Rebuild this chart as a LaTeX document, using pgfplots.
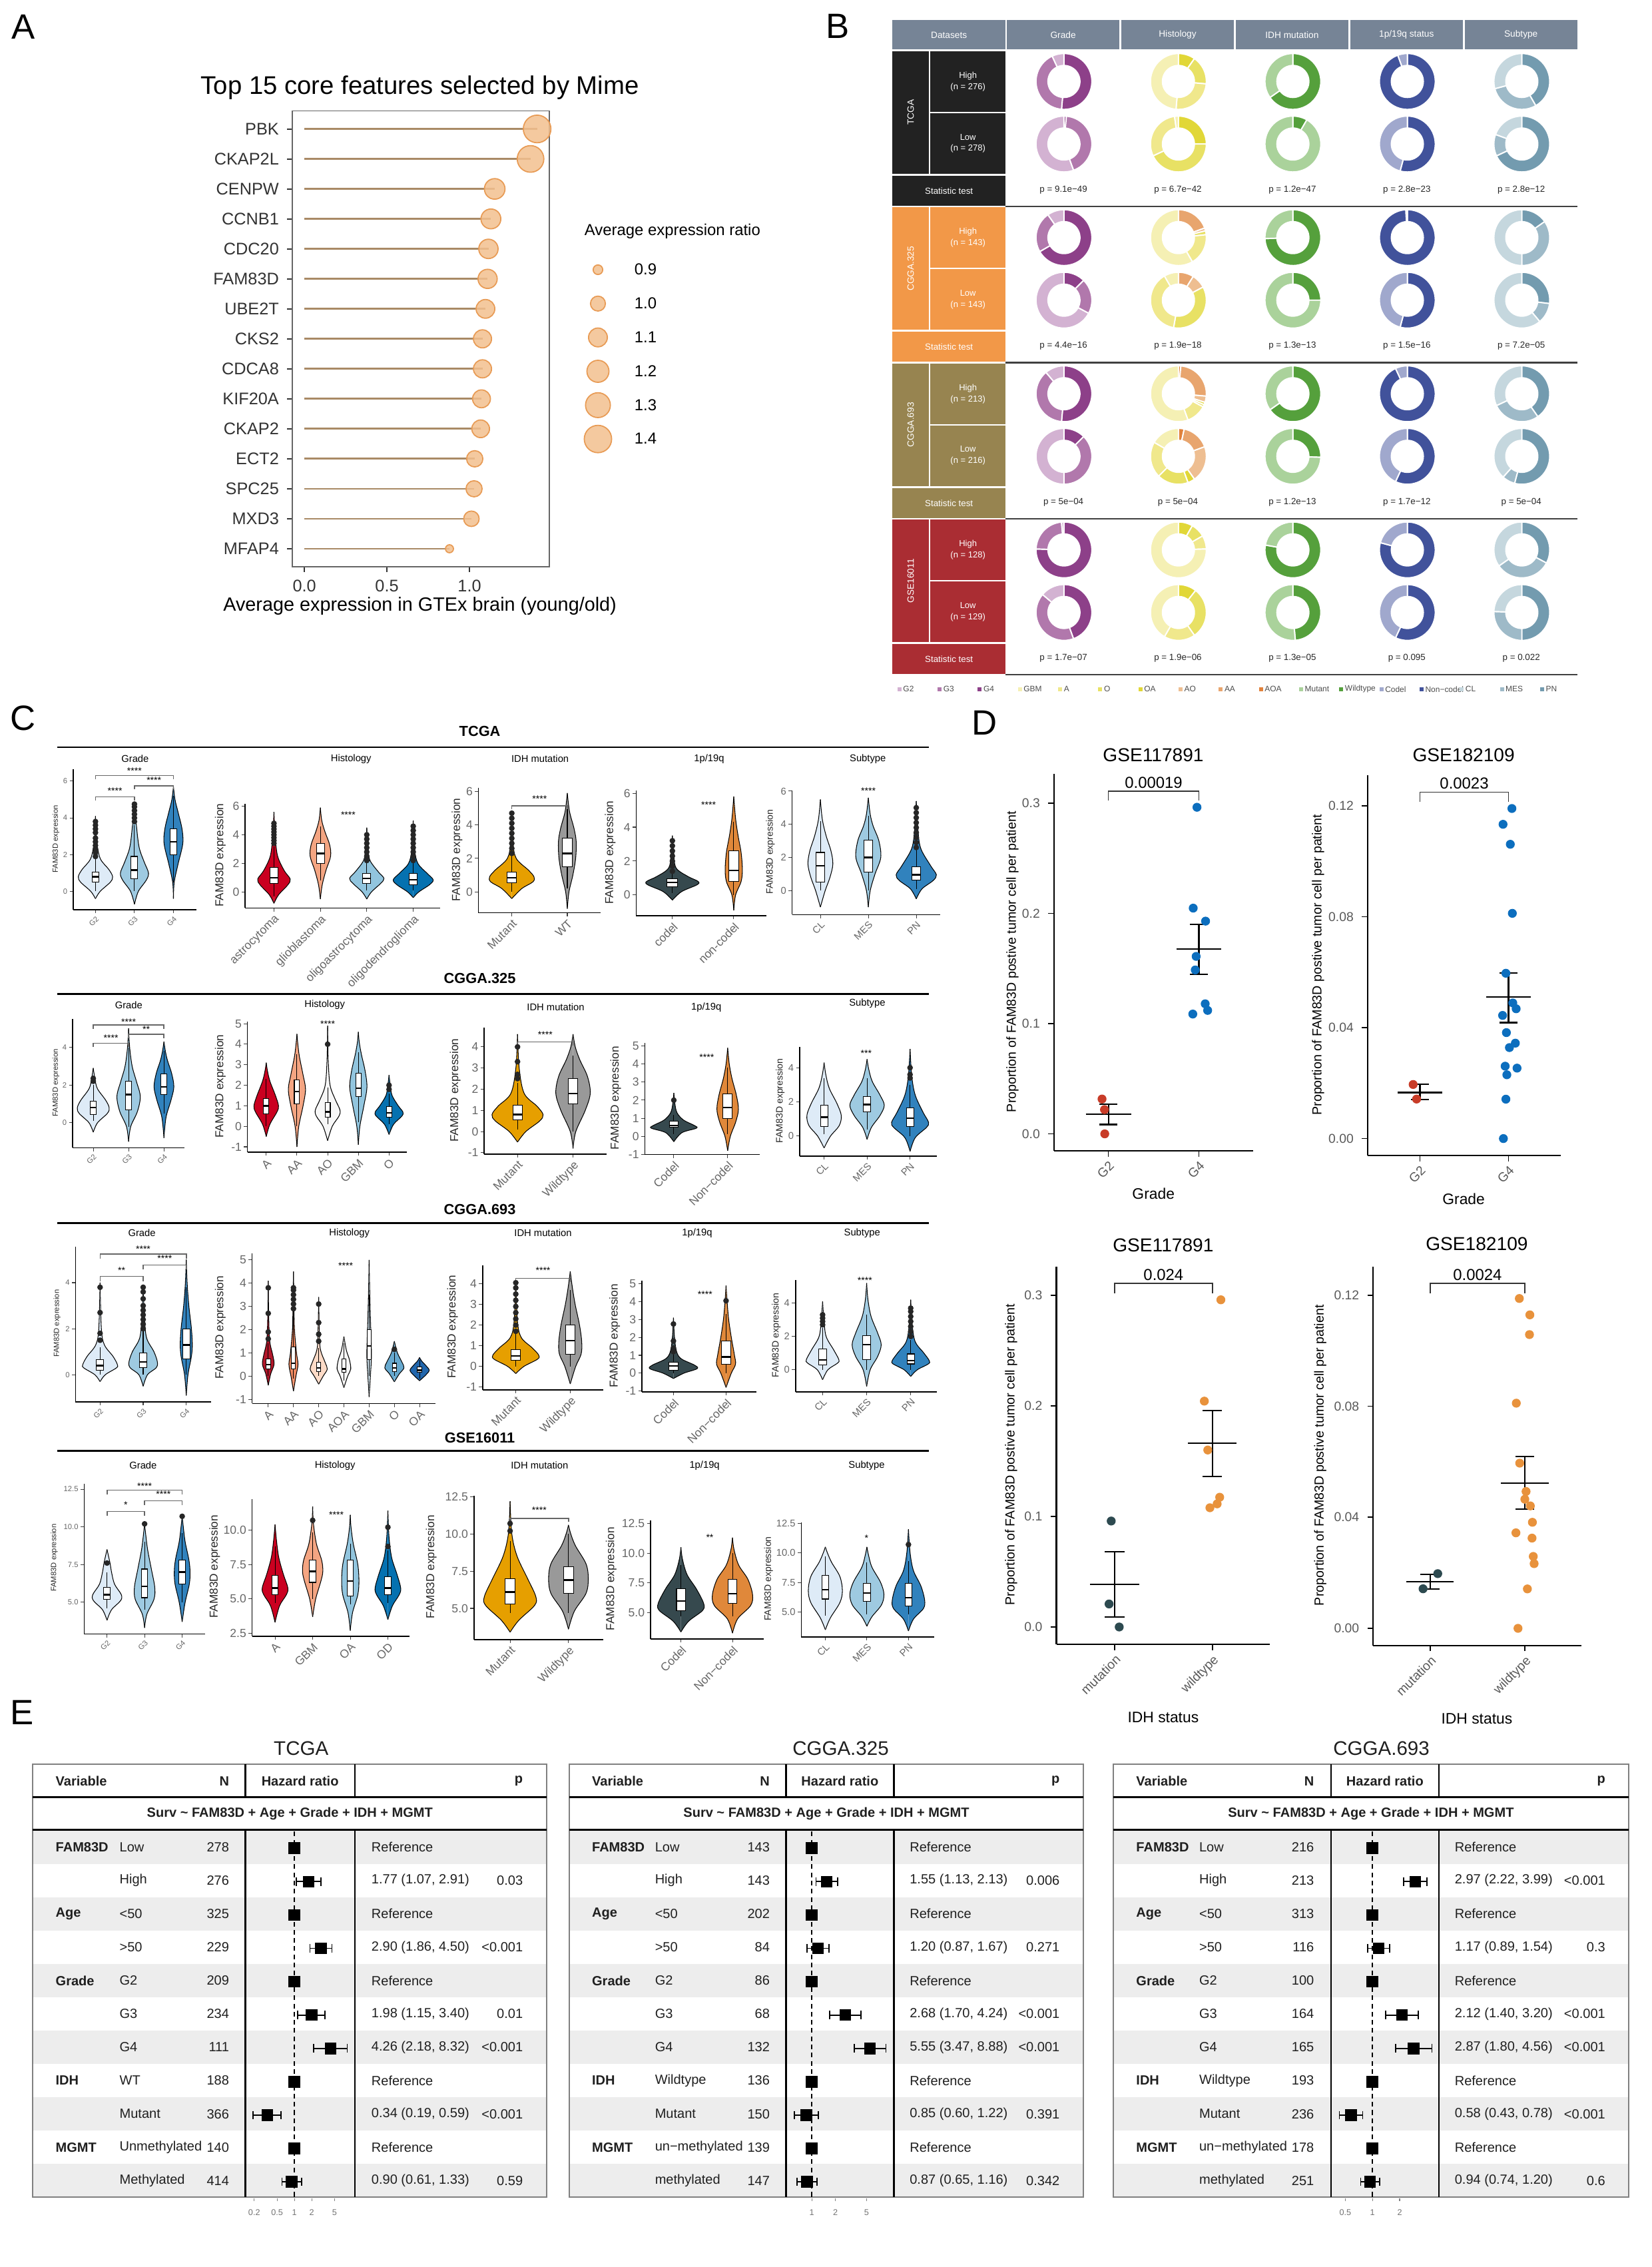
\documentclass[border=0pt]{standalone}
\usepackage{fontspec}
\setmainfont{Liberation Sans}
\usepackage{pgfplots}
\usepackage{pgfplotstable}
\pgfplotsset{compat=1.18}
\usepgfplotslibrary{statistics}

\newcommand{\fs}[1]{\fontsize{#1}{#1}\selectfont}

\definecolor{lolline}{HTML}{A98A66}
\definecolor{dotfill}{HTML}{F2C08E}
\definecolor{dotedge}{HTML}{E89B55}
\definecolor{hdr}{HTML}{768496}
\definecolor{cTCGA}{HTML}{222222}
\definecolor{cCA}{HTML}{F29848}
\definecolor{cCB}{HTML}{978450}
\definecolor{cGSE}{HTML}{AA2D33}
\definecolor{dGa}{HTML}{D3B2D2}
\definecolor{dGb}{HTML}{B178AC}
\definecolor{dGc}{HTML}{8D4089}
\definecolor{dGBM}{HTML}{F5F0B4}
\definecolor{dA}{HTML}{F0E88C}
\definecolor{dO}{HTML}{E8E164}
\definecolor{dOA}{HTML}{E1D737}
\definecolor{dAO}{HTML}{EEBE91}
\definecolor{dAA}{HTML}{E8A56E}
\definecolor{dAOA}{HTML}{E1823C}
\definecolor{dMut}{HTML}{AAD29B}
\definecolor{dWT}{HTML}{55A03C}
\definecolor{dCod}{HTML}{A0A8CD}
\definecolor{dNon}{HTML}{41529B}
\definecolor{dCL}{HTML}{C5D7DE}
\definecolor{dMES}{HTML}{9EBAC8}
\definecolor{dPN}{HTML}{739BAF}
\definecolor{gA}{HTML}{DEEBF7}
\definecolor{gB}{HTML}{9ECAE1}
\definecolor{gC}{HTML}{3182BD}
\definecolor{hA}{HTML}{CA0020}
\definecolor{hB}{HTML}{F4A582}
\definecolor{hW}{HTML}{F7F7F7}
\definecolor{hC}{HTML}{92C5DE}
\definecolor{hD}{HTML}{0571B0}
\definecolor{kA}{HTML}{B2182B}
\definecolor{kB}{HTML}{EF8A62}
\definecolor{kC}{HTML}{FDDBC7}
\definecolor{kD}{HTML}{F7F7F7}
\definecolor{kE}{HTML}{D1E5F0}
\definecolor{kF}{HTML}{67A9CF}
\definecolor{kG}{HTML}{2166AC}
\definecolor{iA}{HTML}{E69F00}
\definecolor{iB}{HTML}{999999}
\definecolor{pA}{HTML}{36494E}
\definecolor{pB}{HTML}{E0883A}
\definecolor{dRed}{HTML}{C83C28}
\definecolor{dBlue}{HTML}{0C6EBE}
\definecolor{dSlate}{HTML}{2D4A50}
\definecolor{dOrange}{HTML}{E8923C}

\pgfplotstableread{
gene v y
PBK 1.41 15
CKAP2L 1.37 14
CENPW 1.153 13
CCNB1 1.13 12
CDC20 1.115 11
FAM83D 1.11 10
UBE2T 1.097 9
CKS2 1.079 8
CDCA8 1.079 7
KIF20A 1.073 6
CKAP2 1.068 5
ECT2 1.032 4
SPC25 1.028 3
MXD3 1.012 2
MFAP4 0.879 1
}\tblA

\pgfplotsset{
  /pgf/number format/assume math mode=true,
  place/.style n args={4}{at={(#1cm,-#2cm)},anchor=north west,scale only axis,width=#3cm,height=#4cm},
  cax/.style={axis lines*=left, axis line style={black,line width=0.45pt}, tick align=outside,
    major tick length=1.5pt, tick style={black!75,line width=0.3pt}, clip=false, enlargelimits=false,
    tick label style={font=\fs{5.0},text=black!60},
    xticklabel style={rotate=45,anchor=north east,inner sep=0.6pt}, yticklabel style={inner sep=0.8pt}},
  dax/.style={axis lines*=left, axis line style={black,line width=0.6pt}, tick align=outside,
    major tick length=2.5pt, tick style={black,line width=0.5pt}, clip=false, enlargelimits=false,
    tick label style={font=\fs{5.5},text=black!65},
    xticklabel style={rotate=45,anchor=north east,inner sep=1pt}, xtick={1,2}},
  fax/.style={ymin=-11.5, ymax=-0.5, axis line style={draw=none}, ytick=\empty,
    xtick pos=bottom, tick align=outside, major tick length=1.2pt, tick style={black!50,line width=0.3pt},
    tick label style={font=\fs{3.6},text=black!55}, clip=false},
}

% violin: centre, colour, rows "y w\\"
\newcommand{\vio}[3]{%
  \addplot[fill=#2,draw=black,line width=0.3pt,smooth,tension=0.55] table[row sep=\\,x expr={#1+\thisrow{w}},y=y] {y w\\#3};
  \addplot[fill=#2,draw=black,line width=0.3pt,smooth,tension=0.55] table[row sep=\\,x expr={#1-\thisrow{w}},y=y] {y w\\#3};
}
\newcommand{\bx}[6]{\addplot[draw=black,fill=white,line width=0.3pt,boxplot/draw direction=y,boxplot/every median/.style={line width=0.7pt},
  boxplot prepared={draw position=#1,lower whisker=#2,lower quartile=#3,median=#4,upper quartile=#5,upper whisker=#6,box extend=0.17,whisker extend=0}] coordinates {};}
\newcommand{\outl}[2]{\addplot[only marks,mark=*,mark size=1.0pt,black!85] table[row sep=\\,x expr=#1,y=y]{y\\#2};}
\newcommand{\brk}[4]{\addplot[black!60,line width=0.45pt] coordinates {(#1,#4)(#1,#3)(#2,#3)(#2,#4)};}
\newcommand{\st}[3]{\node[font=\fs{4}] at (axis cs:#1,#2) {#3};}

% donut segments
\newcount\dcnt
\newcommand{\dseg}[5]{%
  \pgfmathtruncatemacro{\dns}{max(2,ceil(((#4)-(#3))/5))}%
  \pgfmathsetmacro{\dstep}{((#4)-(#3))/\dns}%
  \gdef\dcoords{}%
  \dcnt=0
  \loop
    \pgfmathsetmacro{\dang}{(#3)+\dstep*\the\dcnt}%
    \pgfmathsetmacro{\donx}{(#1)+42*sin(\dang)}%
    \pgfmathsetmacro{\dony}{(#2)+42*cos(\dang)}%
    \xdef\dcoords{\dcoords(\donx,\dony)}%
  \ifnum\dcnt<\dns\relax \advance\dcnt by 1 \repeat
  \dcnt=0
  \loop
    \pgfmathsetmacro{\dang}{(#4)-\dstep*\the\dcnt}%
    \pgfmathsetmacro{\donx}{(#1)+24*sin(\dang)}%
    \pgfmathsetmacro{\dony}{(#2)+24*cos(\dang)}%
    \xdef\dcoords{\dcoords(\donx,\dony)}%
  \ifnum\dcnt<\dns\relax \advance\dcnt by 1 \repeat
  \edef\dnext{\noexpand\addplot[fill=#5,draw=white,line width=0.55pt] coordinates {\dcoords} --cycle;}%
  \dnext
}
\newcommand{\dn}[3]{\foreach \sa/\sb/\sc in {#3}{\dseg{#1}{#2}{\sa}{\sb}{\sc}}}

\newcommand{\erow}[6]{%
  \pgfmathsetmacro{\ry}{2775.3+50.08*(#1-1)}%
  \node[anchor=west,font=\fs{5.7}\bfseries] at (\xa,\ry) {#2};
  \node[anchor=west] at (\xb,\ry) {#3};
  \node[anchor=east] at (\xc,\ry) {#4};
  \node[anchor=west] at (\xd,\ry) {#5};
  \node[anchor=east] at (\xe,\ry) {#6};
}
\newcommand{\etab}[6]{% X0 X1 vl1 vl2 title titleX
  \foreach \i in {0,2,4,6,8,10}{\fill[black!7] (#1,{2750.2+50.08*\i}) rectangle (#2,{2750.2+50.08*(\i+1)});}
  \draw[black!50,line width=0.5pt] (#1,2650.4) rectangle (#2,3301.1);
  \draw[line width=0.9pt] (#1,2700) -- (#2,2700);
  \draw[line width=0.9pt] (#1,2749.4) -- (#2,2749.4);
  \draw[line width=0.7pt] (#3,2650.4) -- (#3,2700) (#3,2749.4) -- (#3,3301.1);
  \draw[line width=0.7pt] (#4,2650.4) -- (#4,2700) (#4,2749.4) -- (#4,3301.1);
  \node[font=\fs{8.4}] at (#6,2627) {#5};
  \node[anchor=west,font=\fs{5.7}\bfseries] at (\xa,2675.7) {Variable};
  \node[anchor=east,font=\fs{5.7}\bfseries] at (\xc,2675.7) {N};
  \node[font=\fs{5.7}\bfseries] at ({(#3+#4)/2},2675.7) {Hazard ratio};
  \node[anchor=east,font=\fs{5.7}\bfseries] at (\xe,2675.7) {p};
  \node[font=\fs{5.7}\bfseries] at ({(#1+#2)/2},2725.2) {Surv \textasciitilde{} FAM83D + Age + Grade + IDH + MGMT};
}

\begin{document}
\begin{tikzpicture}
\path[use as bounding box] (0,0) rectangle (24.8,-34.04);

%==================== PANEL A ====================
\begin{axis}[place={4.39}{1.666}{3.86}{6.844}, xmin=-0.073, xmax=1.484, ymin=0.4, ymax=15.6,
  axis line style={black!60,line width=0.5pt}, xtick={0,0.5,1}, xticklabels={0.0,0.5,1.0},
  ytick=data, yticklabels from table={\tblA}{gene}, tick align=outside, major tick length=2.2pt,
  tick style={black!80,line width=0.6pt}, xtick pos=bottom, ytick pos=left,
  tick label style={font=\fs{7.2},text=black!80}]
\addplot[xcomb, color=lolline, line width=0.8pt] table[x=v,y=y] {\tblA};
\addplot[scatter, only marks, mark=*, scatter/use mapped color={draw=dotedge,fill=dotfill},
  mark options={fill opacity=0.85,line width=0.5pt},
  visualization depends on={0.2845*sqrt(36+740*(\thisrow{v}-0.879)) \as \msz},
  scatter/@pre marker code/.append style={/tikz/mark size=\msz}] table[x=v,y=y] {\tblA};
\end{axis}
\begin{axis}[place={8.48}{3.796}{1.0}{3.05}, hide axis, xmin=-1, xmax=1, ymin=-6.5, ymax=-0.5, clip=false]
\addplot[scatter, only marks, mark=*, scatter/use mapped color={draw=dotedge,fill=dotfill},
  mark options={fill opacity=0.85,line width=0.5pt},
  visualization depends on={0.2845*sqrt(36+740*(\thisrow{v}-0.879)) \as \msz},
  scatter/@pre marker code/.append style={/tikz/mark size=\msz}]
  table[row sep=\\,x=x,y=y]{x y v\\0 -1 0.9\\0 -2 1.0\\0 -3 1.1\\0 -4 1.2\\0 -5 1.3\\0 -6 1.4\\};
\end{axis}

\begin{scope}[x=0.01cm,y=-0.01cm]
\node[font=\fs{15}] at (35,40) {A};
\node[font=\fs{15}] at (1259,39) {B};
\node[font=\fs{15}] at (35,1079) {C};
\node[font=\fs{15}] at (1479,1086) {D};
\node[font=\fs{15}] at (33,2573) {E};
\node[font=\fs{10.9}] at (631,132) {Top 15 core features selected by Mime};
\node[font=\fs{8.2}] at (631,911) {Average expression in GTEx brain (young/old)};
\node[font=\fs{6.8},anchor=west] at (866,348) {Average expression ratio};
\foreach \i/\t in {0/0.9,1/1.0,2/1.1,3/1.2,4/1.3,5/1.4}{\node[font=\fs{6.8},anchor=west] at (941,{405+50.8*\i}) {\t};}

%==================== PANEL B table ====================
\fill[hdr] (1341,30.4) rectangle (1511,74.4);
\fill[hdr] (1513,30.4) rectangle (1682,74.4);
\fill[hdr] (1685,30.4) rectangle (1854,74.4);
\fill[hdr] (1857,30.4) rectangle (2026,74.4);
\fill[hdr] (2029,30.4) rectangle (2198,74.4);
\fill[hdr] (2201,30.4) rectangle (2370,74.4);
\begin{scope}[every node/.style={font=\fs{3.9},text=white}]
\node at (1426,52.4) {Datasets};
\node at (1597.5,52.4) {Grade};
\node at (1769.5,52.4) {Histology};
\node at (1941.5,52.4) {IDH mutation};
\node at (2113.5,52.4) {1p/19q status};
\node at (2285.5,52.4) {Subtype};
\end{scope}
\foreach \T/\c/\nm/\nh/\nl in {77/cTCGA/TCGA/276/278, 311.6/cCA/CGGA.325/143/143, 546.2/cCB/CGGA.693/213/216, 780.8/cGSE/GSE16011/128/129}{
  \fill[\c] (1341,\T) rectangle (1396,\T+184);
  \fill[\c] (1398,\T) rectangle (1511,\T+91);
  \fill[\c] (1398,\T+93) rectangle (1511,\T+184);
  \fill[\c] (1341,\T+187) rectangle (1511,\T+232);
  \node[rotate=90,text=white,font=\fs{3.9}] at (1368.5,\T+92) {\nm};
  \node[text=white,align=center,font=\fontsize{3.7}{4.8}\selectfont] at (1454.5,\T+45.5) {High\\(n = \nh)};
  \node[text=white,align=center,font=\fontsize{3.7}{4.8}\selectfont] at (1454.5,\T+138.5) {Low\\(n = \nl)};
  \node[text=white,font=\fs{3.8}] at (1426,\T+209.5) {Statistic test};
  \draw[black!75,line width=0.7pt] (1511,\T+233) -- (2370,\T+233);
}
\begin{scope}[every node/.style={font=\fs{3.8},text=black!85}]
\node at (1598,285.3) {p = 9.1e−49}; \node at (1770,285.3) {p = 6.7e−42}; \node at (1942,285.3) {p = 1.2e−47}; \node at (2114,285.3) {p = 2.8e−23}; \node at (2286,285.3) {p = 2.8e−12};
\node at (1598,519.9) {p = 4.4e−16}; \node at (1770,519.9) {p = 1.9e−18}; \node at (1942,519.9) {p = 1.3e−13}; \node at (2114,519.9) {p = 1.5e−16}; \node at (2286,519.9) {p = 7.2e−05};
\node at (1598,754.5) {p = 5e−04}; \node at (1770,754.5) {p = 5e−04}; \node at (1942,754.5) {p = 1.2e−13}; \node at (2114,754.5) {p = 1.7e−12}; \node at (2286,754.5) {p = 5e−04};
\node at (1598,989.1) {p = 1.7e−07}; \node at (1770,989.1) {p = 1.9e−06}; \node at (1942,989.1) {p = 1.3e−05}; \node at (2114,989.1) {p = 0.095}; \node at (2286,989.1) {p = 0.022};
\end{scope}
\foreach \i/\c/\t in {0/dGa/G2,1/dGb/G3,2/dGc/G4,3/dGBM/GBM,4/dA/A,5/dO/O,6/dOA/OA,7/dAO/AO,8/dAA/AA,9/dAOA/AOA,10/dMut/Mutant,11/dWT/Wildtype,12/dCod/Codel,13/dNon/Non−codel,14/dCL/CL,15/dMES/MES,16/dPN/PN}{
  \fill[\c] ({1348.6+60.35*\i},1032.4) rectangle ({1354.6+60.35*\i},1038.4);
  \node[anchor=west,font=\fs{3.4},text=black!70,inner sep=0.5pt] at ({1354.8+60.35*\i},1035.4) {\t};
}
\end{scope}

\begin{axis}[at={(13.3cm,0cm)}, anchor=north west, x=0.01cm, y=0.01cm, xmin=1330, xmax=2480, ymin=-1140, ymax=0, hide axis, clip=false]
\dn{1598}{-122.4}{0/185/dGc,185/335/dGb,335/360/dGa}
\dn{1770}{-122.4}{0/35/dOA,35/95/dO,95/185/dA,185/360/dGBM}
\dn{1942}{-122.4}{0/235/dWT,235/360/dMut}
\dn{2114}{-122.4}{0/340/dNon,340/360/dCod}
\dn{2286}{-122.4}{0/150/dPN,150/255/dMES,255/360/dCL}
\dn{1598}{-216.4}{0/5/dGc,5/160/dGb,160/360/dGa}
\dn{1770}{-216.4}{0/90/dOA,90/245/dO,245/352/dA,352/360/dGBM}
\dn{1942}{-216.4}{0/30/dWT,30/360/dMut}
\dn{2114}{-216.4}{0/195/dNon,195/360/dCod}
\dn{2286}{-216.4}{0/245/dPN,245/290/dMES,290/360/dCL}
\dn{1598}{-357}{0/240/dGc,240/325/dGb,325/360/dGa}
\dn{1770}{-357}{0/70/dAA,70/76/dAO,76/84/dO,84/150/dA,150/360/dGBM}
\dn{1942}{-357}{0/268/dWT,268/360/dMut}
\dn{2114}{-357}{0/357/dNon,357/360/dCod}
\dn{2286}{-357}{0/55/dPN,55/180/dMES,180/360/dCL}
\dn{1598}{-451}{0/45/dGc,45/118/dGb,118/360/dGa}
\dn{1770}{-451}{0/32/dAA,32/62/dAO,62/190/dO,190/330/dA,330/360/dGBM}
\dn{1942}{-451}{0/90/dWT,90/360/dMut}
\dn{2114}{-451}{0/195/dNon,195/360/dCod}
\dn{2286}{-451}{0/97/dPN,97/140/dMES,140/360/dCL}
\dn{1598}{-591.6}{0/185/dGc,185/320/dGb,320/360/dGa}
\dn{1770}{-591.6}{0/5/dAOA,5/95/dAA,95/108/dAO,108/113/dOA,113/118/dO,118/160/dA,160/360/dGBM}
\dn{1942}{-591.6}{0/235/dWT,235/360/dMut}
\dn{2114}{-591.6}{0/335/dNon,335/360/dCod}
\dn{2286}{-591.6}{0/145/dPN,145/245/dMES,245/360/dCL}
\dn{1598}{-685.6}{0/45/dGc,45/180/dGb,180/360/dGa}
\dn{1770}{-685.6}{0/12/dAOA,12/70/dAA,70/145/dAO,145/160/dOA,160/225/dO,225/300/dA,300/360/dGBM}
\dn{1942}{-685.6}{0/92/dWT,92/360/dMut}
\dn{2114}{-685.6}{0/205/dNon,205/360/dCod}
\dn{2286}{-685.6}{0/195/dPN,195/222/dMES,222/360/dCL}
\dn{1598}{-826.2}{0/272/dGc,272/355/dGb,355/360/dGa}
\dn{1770}{-826.2}{0/30/dOA,30/60/dO,60/88/dA,88/360/dGBM}
\dn{1942}{-826.2}{0/280/dWT,280/360/dMut}
\dn{2114}{-826.2}{0/285/dNon,285/360/dCod}
\dn{2286}{-826.2}{0/118/dPN,118/235/dMES,235/360/dCL}
\dn{1598}{-920.2}{0/160/dGc,160/310/dGb,310/360/dGa}
\dn{1770}{-920.2}{0/38/dOA,38/145/dO,145/210/dA,210/360/dGBM}
\dn{1942}{-920.2}{0/175/dWT,175/360/dMut}
\dn{2114}{-920.2}{0/205/dNon,205/360/dCod}
\dn{2286}{-920.2}{0/180/dPN,180/272/dMES,272/360/dCL}
\end{axis}

%==================== PANEL C decorations ====================
\begin{scope}[x=0.01cm,y=-0.01cm]
\foreach \yt/\yl/\nm in {1098.3/1122.7/TCGA, 1470/1493.3/CGGA.325, 1816.7/1837.7/CGGA.693, 2160/2180/GSE16011}{
  \node[font=\fs{6.2}\bfseries] at (721,\yt) {\nm};
  \draw[line width=0.8pt] (85.8,\yl) -- (1396,\yl);
}
\begin{scope}[every node/.style={font=\fs{4.2}}]
\node at (203,1140) {Grade}; \node at (527.5,1140) {Histology}; \node at (811.6,1140) {IDH mutation}; \node at (1065.6,1140) {1p/19q}; \node at (1304,1140) {Subtype};
\node at (193.4,1510) {Grade}; \node at (488,1510) {Histology}; \node at (835,1512.7) {IDH mutation}; \node at (1061.3,1514) {1p/19q}; \node at (1303.2,1508) {Subtype};
\node at (213.2,1852.7) {Grade}; \node at (525,1852.7) {Histology}; \node at (816,1852.7) {IDH mutation}; \node at (1047.5,1852.7) {1p/19q}; \node at (1295.5,1852.7) {Subtype};
\node at (215,2201.7) {Grade}; \node at (503.4,2201.7) {Histology}; \node at (810.8,2201.7) {IDH mutation}; \node at (1058.7,2201.7) {1p/19q}; \node at (1302.3,2201.7) {Subtype};
\end{scope}
\foreach \x/\y/\s in {84/1260.5/3.2, 331.2/1285/4.9, 686.8/1277/4.9, 917/1280.9/4.9, 1157.7/1280/4.0,
  84/1626.7/3.2, 331/1632/4.9, 684/1638/4.9, 925.3/1649.7/4.9, 1172.4/1653.9/4.0,
  85.8/1988.4/3.2, 331/1994.5/4.9, 680/1993.4/4.9, 923.6/2006.7/4.9, 1166.3/2005.9/4.0,
  81.5/2340.5/3.2, 322.6/2353.7/4.9, 648/2353.9/4.9, 918.4/2372.2/4.9, 1155/2371.9/4.0}{
  \node[rotate=90,font=\fs{\s},text=black!85] at (\x,\y) {FAM83D expression};
}
\end{scope}

%---------- TCGA row ----------
\begin{axis}[cax, place={1.10}{11.55}{1.85}{2.11}, xmin=0.43, xmax=3.59, ymin=-1.0, ymax=6.65, xtick={1,2,3}, xticklabels={G2,G3,G4}, ytick={0,2,4,6}, tick label style={font=\fs{3.2}}]
\vio{1}{gA}{-0.4 0\\0 0.12\\0.5 0.38\\0.8 0.44\\1.2 0.34\\1.8 0.12\\2.8 0.03\\4.1 0\\}
\vio{2}{gB}{-0.7 0\\0 0.1\\0.6 0.3\\1.0 0.36\\1.6 0.25\\2.4 0.12\\3.6 0.05\\4.8 0\\}
\vio{3}{gC}{-0.4 0\\0.5 0.02\\1.5 0.12\\2.6 0.24\\3.4 0.22\\4.3 0.12\\5.0 0.04\\5.7 0\\}
\bx{1}{0}{0.5}{0.8}{1.05}{1.8}
\bx{2}{0}{0.7}{1.15}{1.9}{3.6}
\bx{3}{0.5}{2.0}{2.7}{3.4}{5.2}
\outl{1}{1.9\\2.1\\2.3\\2.5\\2.7\\2.9\\3.2\\3.4\\3.6\\3.8\\}
\outl{2}{3.8\\4.0\\4.2\\4.4\\4.6\\4.75\\}
\brk{1}{2}{5.14}{4.94}\brk{2}{3}{5.75}{5.55}\brk{1}{3}{6.3}{6.1}
\st{1.5}{5.48}{****}\st{2.5}{6.05}{****}\st{2}{6.55}{****}
\end{axis}
\begin{axis}[cax, place={3.682}{12.067}{2.928}{1.566}, xmin=0.38, xmax=4.58, ymin=-1.12, ymax=6.18, xtick={1,2,3,4}, xticklabels={astrocytoma,glioblastoma,oligoastrocytoma,oligodendroglioma}, ytick={0,2,4,6}]
\vio{1}{hA}{-0.8 0\\-0.2 0.1\\0.5 0.3\\0.9 0.35\\1.5 0.22\\2.5 0.08\\3.8 0.03\\5.6 0\\}
\vio{2}{hB}{-0.5 0\\0.5 0.04\\1.5 0.12\\2.5 0.22\\3.3 0.2\\4.2 0.1\\5.0 0.03\\5.9 0\\}
\vio{3}{hC}{-0.5 0\\0 0.1\\0.6 0.3\\0.95 0.37\\1.4 0.25\\2.2 0.07\\3.0 0.03\\4.5 0\\}
\vio{4}{hD}{-0.4 0\\0 0.12\\0.5 0.35\\0.85 0.43\\1.3 0.3\\2.0 0.1\\3.0 0.03\\5.0 0\\}
\bx{1}{-0.3}{0.6}{1.0}{1.7}{3.2}
\bx{2}{0.8}{2.0}{2.7}{3.4}{4.6}
\bx{3}{0.1}{0.6}{0.95}{1.3}{2.0}
\bx{4}{0.1}{0.5}{0.85}{1.3}{2.0}
\outl{1}{3.4\\3.6\\3.8\\4.0\\4.2\\4.4\\4.6\\4.8\\}
\outl{3}{2.2\\2.5\\2.8\\3.1\\3.4\\3.7\\4.0\\}
\outl{4}{2.2\\2.5\\2.8\\3.1\\3.4\\3.7\\4.0\\4.3\\4.6\\}
\st{2.6}{5.41}{****}
\end{axis}
\begin{axis}[cax, place={7.186}{11.833}{1.834}{1.874}, xmin=0.4, xmax=2.6, ymin=-1.25, ymax=6.2, xtick={1,2}, xticklabels={Mutant,WT}, ytick={0,2,4,6}]
\vio{1}{iA}{-0.4 0\\0.2 0.18\\0.6 0.38\\0.9 0.4\\1.3 0.3\\2.0 0.08\\3.0 0.02\\4.8 0\\}
\vio{2}{iB}{-1.0 0\\0 0.03\\1.0 0.1\\2.0 0.15\\3.0 0.16\\3.8 0.12\\4.8 0.04\\5.9 0\\}
\bx{1}{0}{0.55}{0.85}{1.2}{2.2}
\bx{2}{0.2}{1.5}{2.3}{3.2}{5.0}
\outl{1}{2.3\\2.6\\2.9\\3.2\\3.5\\3.8\\4.1\\4.4\\4.7\\}
\brk{1}{2}{5.14}{4.95}
\st{1.5}{5.56}{****}
\end{axis}
\begin{axis}[cax, place={9.554}{11.867}{1.954}{1.883}, xmin=0.41, xmax=2.53, ymin=-1.22, ymax=6.17, xtick={1,2}, xticklabels={codel,non-codel}, ytick={0,2,4,6}]
\vio{1}{pA}{-0.3 0\\0.2 0.15\\0.6 0.4\\0.8 0.42\\1.1 0.25\\1.6 0.06\\2.5 0.02\\3.5 0\\}
\vio{2}{pB}{-0.9 0\\0 0.03\\0.8 0.12\\1.5 0.14\\2.5 0.12\\3.5 0.07\\4.5 0.03\\5.8 0\\}
\bx{1}{0.1}{0.5}{0.75}{0.95}{1.3}
\bx{2}{0}{0.8}{1.45}{2.6}{4.3}
\outl{1}{1.4\\1.7\\2.0\\2.3\\2.6\\2.9\\3.2\\}
\st{1.59}{5.29}{****}
\end{axis}
\begin{axis}[cax, place={11.896}{11.867}{2.224}{1.866}, xmin=0.41, xmax=3.5, ymin=-1.45, ymax=6.05, xtick={1,2,3}, xticklabels={CL,MES,PN}, ytick={0,2,4,6}, tick label style={font=\fs{4.2}}]
\vio{1}{gA}{-1.0 0\\0 0.1\\0.8 0.2\\1.6 0.26\\2.4 0.22\\3.3 0.12\\4.3 0.04\\5.5 0\\}
\vio{2}{gB}{-1.0 0\\0 0.04\\1.0 0.14\\2.0 0.26\\3.0 0.22\\3.9 0.1\\4.6 0.04\\5.6 0\\}
\vio{3}{gC}{-0.5 0\\0.1 0.12\\0.6 0.35\\0.95 0.42\\1.5 0.3\\2.5 0.1\\3.5 0.04\\5.4 0\\}
\bx{1}{0}{0.5}{1.5}{2.3}{4.2}
\bx{2}{0}{1.1}{2.0}{3.05}{4.5}
\bx{3}{0.1}{0.65}{0.95}{1.45}{2.5}
\outl{3}{2.6\\2.9\\3.2\\3.5\\3.8\\4.1\\4.4\\4.7\\5.0\\}
\st{2}{6.0}{****}
\end{axis}

%---------- CGGA.325 row ----------
\begin{axis}[cax, place={1.09}{15.30}{1.68}{1.933}, xmin=0.415, xmax=3.58, ymin=-1.32, ymax=5.5, xtick={1,2,3}, xticklabels={G2,G3,G4}, ytick={0,2,4}, tick label style={font=\fs{3.2}}]
\vio{1}{gA}{-0.5 0\\0 0.12\\0.5 0.4\\0.8 0.45\\1.2 0.35\\1.8 0.12\\2.3 0.05\\2.9 0\\}
\vio{2}{gB}{-1.0 0\\-0.2 0.06\\0.6 0.25\\1.4 0.33\\2.2 0.22\\3.0 0.1\\4.0 0.03\\5.0 0\\}
\vio{3}{gC}{-0.8 0\\0.3 0.06\\1.2 0.2\\1.9 0.28\\2.6 0.22\\3.3 0.1\\3.8 0.04\\4.3 0\\}
\bx{1}{0.1}{0.45}{0.8}{1.15}{2.0}
\bx{2}{-0.2}{0.7}{1.5}{2.2}{4.0}
\bx{3}{0.5}{1.5}{1.9}{2.6}{3.8}
\outl{1}{2.2\\2.35\\}
\brk{1}{2}{4.21}{4.01}\brk{2}{3}{4.68}{4.48}\brk{1}{3}{5.18}{4.98}
\st{1.5}{4.5}{****}\st{2.5}{4.94}{**}\st{2}{5.35}{****}
\end{axis}
\begin{axis}[cax, place={3.717}{15.34}{2.393}{1.96}, xmin=0.39, xmax=5.58, ymin=-1.26, ymax=5.1, xtick={1,...,5}, xticklabels={A,AA,AO,GBM,O}, ytick={-1,0,...,5}]
\vio{1}{hA}{-0.5 0\\0.1 0.12\\0.7 0.35\\1.0 0.4\\1.5 0.3\\2.2 0.12\\2.7 0.04\\3.1 0\\}
\vio{2}{hB}{-1.0 0\\0 0.06\\1.0 0.2\\1.8 0.28\\2.5 0.2\\3.4 0.08\\4.0 0.03\\4.5 0\\}
\vio{3}{hW}{-0.7 0\\0 0.15\\0.5 0.37\\0.8 0.4\\1.3 0.25\\2.0 0.08\\3.2 0.02\\4.9 0\\}
\vio{4}{hC}{-0.9 0\\0 0.05\\1.0 0.18\\1.9 0.28\\2.7 0.22\\3.5 0.1\\4.1 0.03\\4.6 0\\}
\vio{5}{hD}{-0.4 0\\0.1 0.15\\0.5 0.42\\0.7 0.45\\1.0 0.3\\1.5 0.1\\2.0 0.04\\2.5 0\\}
\bx{1}{0}{0.6}{1.0}{1.35}{2.3}
\bx{2}{0}{1.1}{1.7}{2.25}{3.5}
\bx{3}{0.1}{0.45}{0.7}{1.15}{1.9}
\bx{4}{0.2}{1.45}{1.85}{2.6}{3.6}
\bx{5}{0.1}{0.45}{0.65}{0.95}{1.6}
\outl{3}{4.0\\}
\outl{5}{1.8\\2.0\\}
\st{3}{4.99}{****}
\end{axis}
\begin{axis}[cax, place={7.272}{15.433}{1.834}{1.894}, xmin=0.4, xmax=2.6, ymin=-1.06, ymax=4.9, xtick={1,2}, xticklabels={Mutant,Wildtype}, ytick={-1,0,...,4}]
\vio{1}{iA}{-0.5 0\\0 0.15\\0.5 0.4\\0.8 0.46\\1.2 0.35\\1.8 0.12\\3.0 0.03\\4.6 0\\}
\vio{2}{iB}{-0.8 0\\0 0.05\\1.0 0.22\\1.8 0.31\\2.6 0.26\\3.4 0.12\\4.0 0.04\\4.6 0\\}
\bx{1}{0.1}{0.55}{0.8}{1.25}{2.3}
\bx{2}{0}{1.3}{1.8}{2.5}{3.6}
\outl{1}{2.5\\2.7\\3.3\\4.0\\}
\brk{1}{2}{4.23}{4.05}
\st{1.5}{4.58}{****}
\end{axis}
\begin{axis}[cax, place={9.683}{15.66}{1.722}{1.673}, xmin=0.46, xmax=2.59, ymin=-1, ymax=5.17, xtick={1,2}, xticklabels={Codel,Non−codel}, ytick={-1,0,...,5}]
\vio{1}{pA}{-0.3 0\\0.2 0.15\\0.45 0.42\\0.6 0.38\\0.9 0.18\\1.3 0.06\\1.8 0.02\\2.4 0\\}
\vio{2}{pB}{-0.8 0\\0 0.05\\0.8 0.15\\1.5 0.2\\2.3 0.16\\3.2 0.08\\4.0 0.03\\4.9 0\\}
\bx{1}{0.1}{0.5}{0.6}{0.85}{1.2}
\bx{2}{0.1}{1.0}{1.6}{2.35}{3.8}
\outl{1}{2.0\\}
\st{1.61}{4.37}{****}
\end{axis}
\begin{axis}[cax, place={12.008}{15.717}{2.066}{1.643}, xmin=0.43, xmax=3.63, ymin=-1.18, ymax=5.23, xtick={1,2,3}, xticklabels={CL,MES,PN}, ytick={0,2,4}, tick label style={font=\fs{4.2}}]
\vio{1}{gA}{-0.7 0\\0 0.15\\0.6 0.35\\1.2 0.4\\1.9 0.3\\2.8 0.12\\3.6 0.04\\4.3 0\\}
\vio{2}{gB}{-0.2 0\\0.5 0.1\\1.2 0.3\\1.8 0.4\\2.4 0.3\\3.2 0.12\\3.9 0.04\\4.5 0\\}
\vio{3}{gC}{-0.9 0\\-0.1 0.12\\0.5 0.38\\0.8 0.43\\1.4 0.3\\2.4 0.12\\3.5 0.04\\5.1 0\\}
\bx{1}{0.1}{0.55}{1.1}{1.8}{3.4}
\bx{2}{0.4}{1.4}{1.85}{2.3}{3.4}
\bx{3}{0}{0.55}{1.05}{1.65}{3.0}
\outl{3}{3.4\\3.6\\4.0\\}
\st{1.98}{4.84}{***}
\end{axis}

%---------- CGGA.693 row ----------
\begin{axis}[cax, place={1.134}{18.717}{2.032}{2.333}, xmin=0.43, xmax=3.57, ymin=-1.18, ymax=5.57, xtick={1,2,3}, xticklabels={G2,G3,G4}, ytick={0,2,4}, tick label style={font=\fs{3.2}}]
\vio{1}{gA}{-0.3 0\\0 0.12\\0.3 0.38\\0.45 0.4\\0.8 0.3\\1.3 0.1\\2.0 0.03\\4.0 0\\}
\vio{2}{gB}{-0.5 0\\0 0.1\\0.3 0.3\\0.55 0.33\\1.0 0.25\\1.6 0.08\\2.5 0.03\\3.8 0\\}
\vio{3}{gC}{-0.9 0\\0 0.04\\0.8 0.12\\1.3 0.14\\2.0 0.12\\3.0 0.06\\4.0 0.02\\5.0 0\\}
\bx{1}{0}{0.2}{0.4}{0.65}{1.2}
\bx{2}{0}{0.3}{0.55}{0.95}{1.9}
\bx{3}{0}{0.7}{1.3}{2.0}{3.8}
\outl{1}{1.5\\1.8\\2.7\\3.8\\}
\outl{2}{2.0\\2.2\\2.4\\2.6\\2.8\\3.0\\3.3\\3.6\\3.8\\}
\brk{1}{2}{4.27}{4.07}\brk{2}{3}{4.77}{4.57}\brk{1}{3}{5.25}{5.05}
\st{1.5}{4.54}{**}\st{2.5}{5.04}{****}\st{2}{5.45}{****}
\end{axis}
\begin{axis}[cax, place={3.786}{18.817}{2.754}{2.256}, xmin=0.36, xmax=7.63, ymin=-1.18, ymax=5.29, xtick={1,...,7}, xticklabels={A,AA,AO,AOA,GBM,O,OA}, ytick={-1,0,...,5}]
\vio{1}{kA}{-0.4 0\\0.1 0.1\\0.5 0.23\\0.9 0.18\\1.5 0.06\\2.5 0.02\\4.1 0\\}
\vio{2}{kB}{-0.65 0\\0 0.1\\0.5 0.18\\1.0 0.12\\2.0 0.04\\3.0 0.02\\4.5 0\\}
\vio{3}{kC}{-0.35 0\\0 0.18\\0.3 0.34\\0.6 0.25\\1.2 0.06\\2.2 0.02\\3.4 0\\}
\vio{4}{kD}{-0.5 0\\0 0.15\\0.3 0.27\\0.7 0.22\\1.1 0.1\\1.7 0\\}
\vio{5}{kE}{-0.9 0\\0 0.05\\0.8 0.09\\1.5 0.08\\2.5 0.05\\3.8 0.02\\5.0 0\\}
\vio{6}{kF}{-0.25 0\\0.1 0.2\\0.35 0.38\\0.6 0.3\\1.0 0.12\\1.5 0\\}
\vio{7}{kG}{-0.2 0\\0.05 0.25\\0.25 0.38\\0.45 0.25\\0.65 0.08\\0.8 0\\}
\bx{1}{0}{0.3}{0.5}{0.75}{1.4}
\bx{2}{-0.1}{0.3}{0.55}{1.25}{2.8}
\bx{3}{0}{0.2}{0.35}{0.6}{1.2}
\bx{4}{-0.2}{0.15}{0.3}{0.75}{1.4}
\bx{5}{0}{0.7}{1.3}{2.0}{3.5}
\bx{6}{0}{0.2}{0.35}{0.55}{1.0}
\bx{7}{-0.1}{0.15}{0.25}{0.4}{0.7}
\outl{1}{1.6\\1.9\\2.7\\3.8\\}
\outl{2}{2.9\\3.1\\3.3\\3.5\\3.7\\3.8\\}
\outl{3}{1.5\\1.8\\2.3\\3.1\\}
\outl{6}{1.15\\}
\st{4.07}{4.76}{****}
\end{axis}
\begin{axis}[cax, place={7.247}{19.0}{1.808}{1.867}, xmin=0.39, xmax=2.6, ymin=-1.13, ymax=4.89, xtick={1,2}, xticklabels={Mutant,Wildtype}, ytick={-1,0,...,4}]
\vio{1}{iA}{-0.35 0\\0 0.15\\0.35 0.4\\0.55 0.42\\0.9 0.3\\1.4 0.1\\2.2 0.03\\4.1 0\\}
\vio{2}{iB}{-0.85 0\\0 0.1\\0.6 0.2\\1.2 0.21\\2.0 0.17\\3.0 0.09\\3.8 0.04\\4.6 0\\}
\bx{1}{0}{0.3}{0.5}{0.8}{1.6}
\bx{2}{0}{0.6}{1.25}{2.0}{3.7}
\outl{1}{1.7\\2.0\\2.3\\2.6\\2.9\\3.2\\3.5\\3.8\\4.05\\}
\brk{1}{2}{4.26}{4.08}
\st{1.5}{4.63}{****}
\end{axis}
\begin{axis}[cax, place={9.64}{19.233}{1.722}{1.667}, xmin=0.4, xmax=2.58, ymin=-1.05, ymax=5.16, xtick={1,2}, xticklabels={Codel,Non−codel}, ytick={-1,0,...,5}]
\vio{1}{pA}{-0.3 0\\0 0.2\\0.25 0.45\\0.45 0.4\\0.8 0.15\\1.2 0.06\\2.0 0.02\\3.1 0\\}
\vio{2}{pB}{-0.8 0\\0 0.1\\0.5 0.18\\1.0 0.16\\2.0 0.1\\3.0 0.05\\4.0 0.02\\4.9 0\\}
\bx{1}{0}{0.15}{0.4}{0.6}{1.1}
\bx{2}{0}{0.5}{0.9}{1.8}{3.3}
\outl{1}{1.2\\1.4\\1.8\\2.75\\}
\outl{2}{4.05\\}
\st{1.6}{4.42}{****}
\end{axis}
\begin{axis}[cax, place={11.947}{19.217}{2.127}{1.683}, xmin=0.385, xmax=3.6, ymin=-1.33, ymax=5.4, xtick={1,2,3}, xticklabels={CL,MES,PN}, ytick={0,2,4}, tick label style={font=\fs{4.2}}]
\vio{1}{gA}{-0.6 0\\0 0.12\\0.4 0.34\\0.6 0.37\\1.2 0.25\\2.0 0.08\\3.0 0.03\\4.1 0\\}
\vio{2}{gB}{-1.0 0\\0 0.08\\0.8 0.25\\1.5 0.33\\2.2 0.25\\3.2 0.1\\4.2 0.03\\5.2 0\\}
\vio{3}{gC}{-0.4 0\\0 0.15\\0.35 0.4\\0.55 0.42\\1.0 0.3\\1.7 0.1\\2.8 0.03\\4.2 0\\}
\bx{1}{0}{0.3}{0.6}{1.25}{2.5}
\bx{2}{0}{0.6}{1.5}{2.05}{3.3}
\bx{3}{0}{0.35}{0.55}{0.95}{1.8}
\outl{1}{2.7\\2.9\\3.1\\3.3\\}
\outl{3}{2.0\\2.3\\2.6\\2.9\\3.2\\3.5\\3.7\\}
\st{1.96}{5.35}{****}
\end{axis}

%---------- GSE16011 row ----------
\begin{axis}[cax, place={1.263}{22.277}{1.817}{2.256}, xmin=0.39, xmax=3.61, ymin=2.9, ymax=12.87, xtick={1,2,3}, xticklabels={G2,G3,G4}, ytick={5,7.5,10,12.5}, tick label style={font=\fs{3.2}}, yticklabel style={/pgf/number format/fixed,/pgf/number format/fixed zerofill,/pgf/number format/precision=1}]
\vio{1}{gA}{3.8 0\\4.5 0.12\\5.1 0.36\\5.5 0.38\\6.2 0.2\\7.0 0.12\\7.6 0.08\\8.5 0\\}
\vio{2}{gB}{3.3 0\\4.2 0.06\\5.2 0.25\\6.0 0.27\\7.2 0.18\\8.5 0.08\\9.5 0.03\\10.2 0\\}
\vio{3}{gC}{3.7 0\\5.0 0.08\\6.2 0.19\\7.0 0.21\\7.8 0.18\\9.0 0.08\\10.0 0.03\\10.7 0\\}
\bx{1}{4.6}{5.2}{5.5}{6.0}{7.0}
\bx{2}{4.5}{5.3}{6.05}{7.2}{9.0}
\bx{3}{5.0}{6.2}{7.0}{7.8}{9.6}
\outl{1}{7.6\\}
\outl{2}{10.2\\}
\outl{3}{10.7\\}
\brk{1}{2}{11.03}{10.75}\brk{2}{3}{11.74}{11.46}\brk{1}{3}{12.44}{12.16}
\st{1.5}{11.44}{*}\st{2.5}{12.15}{****}\st{2}{12.7}{****}
\end{axis}
\begin{axis}[cax, place={3.786}{22.507}{2.367}{2.06}, xmin=0.39, xmax=4.58, ymin=2.3, ymax=12.25, xtick={1,2,3,4}, xticklabels={A,GBM,OA,OD}, ytick={2.5,5,7.5,10}, yticklabel style={/pgf/number format/fixed,/pgf/number format/fixed zerofill,/pgf/number format/precision=1}]
\vio{1}{hA}{3.3 0\\4.5 0.12\\5.3 0.3\\5.8 0.34\\6.8 0.22\\8.0 0.1\\9.2 0.04\\10.4 0\\}
\vio{2}{hB}{3.7 0\\5.0 0.08\\6.3 0.22\\7.0 0.27\\7.8 0.24\\9.0 0.1\\10.5 0.02\\11.7 0\\}
\vio{3}{hC}{2.7 0\\4.0 0.06\\5.3 0.2\\6.3 0.23\\7.5 0.2\\9.0 0.08\\10.2 0.02\\11.1 0\\}
\vio{4}{hD}{3.5 0\\4.5 0.12\\5.3 0.3\\5.8 0.34\\6.8 0.24\\8.0 0.1\\9.5 0.03\\11.4 0\\}
\bx{1}{4.7}{5.3}{5.8}{6.7}{8.8}
\bx{2}{5.0}{6.2}{7.0}{7.8}{9.8}
\bx{3}{4.6}{5.2}{6.3}{7.8}{9.0}
\bx{4}{4.7}{5.3}{5.8}{6.6}{8.5}
\outl{2}{10.7\\}
\outl{4}{8.8\\10.2\\}
\st{2.63}{11.08}{****}
\end{axis}
\begin{axis}[cax, place={7.117}{22.46}{1.946}{2.157}, xmin=0.38, xmax=2.6, ymin=2.91, ymax=12.56, xtick={1,2}, xticklabels={Mutant,Wildtype}, ytick={5,7.5,10,12.5}, yticklabel style={/pgf/number format/fixed,/pgf/number format/fixed zerofill,/pgf/number format/precision=1}]
\vio{1}{iA}{3.4 0\\4.2 0.15\\5.2 0.42\\5.8 0.44\\7.0 0.3\\8.5 0.12\\10.0 0.03\\12.2 0\\}
\vio{2}{iB}{3.6 0\\4.8 0.1\\6.0 0.3\\7.0 0.34\\8.0 0.3\\9.2 0.12\\10.0 0.04\\10.6 0\\}
\bx{1}{4.7}{5.3}{6.1}{7.0}{9.5}
\bx{2}{4.7}{6.0}{6.9}{7.8}{10.0}
\outl{1}{10.2\\10.7\\}
\brk{1}{2}{11.04}{10.8}
\st{1.5}{11.6}{****}
\end{axis}
\begin{axis}[cax, place={9.769}{22.833}{1.696}{1.777}, xmin=0.41, xmax=2.6, ymin=2.81, ymax=12.72, xtick={1,2}, xticklabels={Codel,Non−codel}, ytick={5,7.5,10,12.5}, yticklabel style={/pgf/number format/fixed,/pgf/number format/fixed zerofill,/pgf/number format/precision=1}]
\vio{1}{pA}{3.4 0\\4.3 0.15\\5.2 0.42\\5.8 0.44\\7.0 0.3\\8.2 0.12\\9.5 0.03\\10.5 0\\}
\vio{2}{pB}{3.3 0\\4.5 0.1\\5.6 0.35\\6.5 0.39\\7.8 0.3\\9.0 0.12\\10.3 0.03\\11.3 0\\}
\bx{1}{4.7}{5.2}{6.0}{7.0}{9.0}
\bx{2}{4.7}{5.8}{6.6}{7.8}{10.0}
\st{1.56}{11.28}{**}
\end{axis}
\begin{axis}[cax, place={12.033}{22.86}{1.997}{1.717}, xmin=0.42, xmax=3.62, ymin=2.91, ymax=12.57, xtick={1,2,3}, xticklabels={CL,MES,PN}, ytick={5,7.5,10,12.5}, tick label style={font=\fs{4.2}}, yticklabel style={/pgf/number format/fixed,/pgf/number format/fixed zerofill,/pgf/number format/precision=1}]
\vio{1}{gA}{3.5 0\\4.5 0.12\\5.8 0.35\\6.8 0.41\\8.0 0.35\\9.2 0.15\\10.0 0.05\\10.5 0\\}
\vio{2}{gB}{3.8 0\\4.6 0.12\\5.6 0.35\\6.5 0.41\\7.5 0.33\\8.8 0.12\\9.8 0.04\\10.5 0\\}
\vio{3}{gC}{3.4 0\\4.4 0.12\\5.3 0.36\\6.0 0.39\\7.2 0.3\\8.5 0.12\\10.0 0.04\\12.0 0\\}
\bx{1}{4.7}{6.1}{6.9}{8.1}{9.7}
\bx{2}{4.8}{5.9}{6.6}{7.4}{9.2}
\bx{3}{4.8}{5.5}{6.2}{7.4}{9.3}
\outl{3}{10.7\\}
\st{1.99}{11.22}{*}
\end{axis}

%==================== PANEL D ====================
\begin{axis}[dax, place={15.83}{11.62}{2.99}{5.66}, xmin=0.4, xmax=2.6, ymin=-0.0154, ymax=0.3266, ytick={0,0.1,0.2,0.3}, yticklabel style={/pgf/number format/fixed,/pgf/number format/fixed zerofill,/pgf/number format/precision=1}, xticklabels={G2,G4}]
\addplot[only marks,mark=*,mark size=1.7pt,color=dRed] table[row sep=\\]{x y\\0.93 0.0316\\0.957 0.022\\0.96 0\\};
\addplot[only marks,mark=*,mark size=1.7pt,color=dBlue] table[row sep=\\]{x y\\1.979 0.2963\\1.9375 0.2048\\2.074 0.193\\1.97 0.161\\1.96 0.1487\\2.07 0.118\\2.097 0.112\\1.933 0.1087\\};
\addplot[black,line width=0.6pt,unbounded coords=jump] coordinates {(0.75,0.0178)(1.25,0.0178) (nan,nan) (0.9,0.027)(1.1,0.027) (nan,nan) (1,0.027)(1,0.0085) (nan,nan) (0.9,0.0085)(1.1,0.0085)};
\addplot[black,line width=0.6pt,unbounded coords=jump] coordinates {(1.75,0.1678)(2.25,0.1678) (nan,nan) (1.9,0.19)(2.1,0.19) (nan,nan) (2,0.19)(2,0.1449) (nan,nan) (1.9,0.1449)(2.1,0.1449)};
\addplot[black!80,line width=0.5pt] coordinates {(1,0.3025)(1,0.311)(2,0.311)(2,0.3025)};
\node[font=\fs{6.8},anchor=south,inner sep=1pt] at (axis cs:1.5,0.311) {0.00019};
\end{axis}
\begin{axis}[dax, place={20.54}{11.64}{2.90}{5.71}, xmin=0.41, xmax=2.59, ymin=-0.0061, ymax=0.131, ytick={0,0.04,0.08,0.12}, yticklabel style={/pgf/number format/fixed,/pgf/number format/fixed zerofill,/pgf/number format/precision=2}, xticklabels={G2,G4}]
\addplot[only marks,mark=*,mark size=1.7pt,color=dRed] table[row sep=\\]{x y\\0.923 0.0195\\0.962 0.01425\\};
\addplot[only marks,mark=*,mark size=1.7pt,color=dBlue] table[row sep=\\]{x y\\2.038 0.119\\1.938 0.1133\\2.02 0.1061\\2.043 0.0812\\1.97 0.0596\\2.048 0.0489\\1.933 0.0444\\2.086 0.0468\\1.976 0.0382\\2.01 0.0328\\2.077 0.0344\\1.962 0.0261\\2.096 0.0254\\1.981 0.023\\1.97 0.0142\\1.942 0.0\\};
\addplot[black,line width=0.6pt,unbounded coords=jump] coordinates {(0.75,0.0166)(1.25,0.0166) (nan,nan) (0.9,0.0195)(1.1,0.0195) (nan,nan) (1,0.0195)(1,0.0141) (nan,nan) (0.9,0.0141)(1.1,0.0141)};
\addplot[black,line width=0.6pt,unbounded coords=jump] coordinates {(1.75,0.051)(2.25,0.051) (nan,nan) (1.9,0.0596)(2.1,0.0596) (nan,nan) (2,0.0596)(2,0.0418) (nan,nan) (1.9,0.0418)(2.1,0.0418)};
\addplot[black!80,line width=0.5pt] coordinates {(1,0.1214)(1,0.1249)(2,0.1249)(2,0.1214)};
\node[font=\fs{6.8},anchor=south,inner sep=1pt] at (axis cs:1.5,0.1249) {0.0023};
\end{axis}
\begin{axis}[dax, place={15.865}{19.022}{3.208}{5.665}, xmin=0.404, xmax=2.59, ymin=-0.0155, ymax=0.3256, ytick={0,0.1,0.2,0.3}, yticklabel style={/pgf/number format/fixed,/pgf/number format/fixed zerofill,/pgf/number format/precision=1}, xticklabels={mutation,wildtype}]
\addplot[only marks,mark=*,mark size=1.7pt,color=dSlate] table[row sep=\\]{x y\\0.965 0.0958\\0.943 0.0208\\1.047 0.0\\};
\addplot[only marks,mark=*,mark size=1.7pt,color=dOrange] table[row sep=\\]{x y\\2.087 0.2958\\1.918 0.2042\\1.953 0.160\\2.075 0.1173\\2.049 0.1113\\1.975 0.1078\\};
\addplot[black,line width=0.6pt,unbounded coords=jump] coordinates {(0.75,0.0387)(1.25,0.0387) (nan,nan) (0.9,0.0678)(1.1,0.0678) (nan,nan) (1,0.0678)(1,0.009) (nan,nan) (0.9,0.009)(1.1,0.009)};
\addplot[black,line width=0.6pt,unbounded coords=jump] coordinates {(1.75,0.166)(2.25,0.166) (nan,nan) (1.9,0.1959)(2.1,0.1959) (nan,nan) (2,0.1959)(2,0.1363) (nan,nan) (1.9,0.1363)(2.1,0.1363)};
\addplot[black!80,line width=0.5pt] coordinates {(1,0.3017)(1,0.3107)(2,0.3107)(2,0.3017)};
\node[font=\fs{6.8},anchor=south,inner sep=1pt] at (axis cs:1.5,0.3107) {0.024};
\end{axis}
\begin{axis}[dax, place={20.623}{19.022}{3.125}{5.684}, xmin=0.4, xmax=2.596, ymin=-0.00614, ymax=0.1302, ytick={0,0.04,0.08,0.12}, yticklabel style={/pgf/number format/fixed,/pgf/number format/fixed zerofill,/pgf/number format/precision=2}, xticklabels={mutation,wildtype}]
\addplot[only marks,mark=*,mark size=1.7pt,color=dSlate] table[row sep=\\]{x y\\1.081 0.0197\\0.926 0.01425\\};
\addplot[only marks,mark=*,mark size=1.7pt,color=dOrange] table[row sep=\\]{x y\\1.942 0.1188\\2.053 0.1129\\2.049 0.1058\\1.91 0.0811\\1.946 0.0595\\2.013 0.0493\\2.0 0.0465\\2.058 0.0441\\2.08 0.0382\\1.906 0.0344\\2.076 0.0325\\2.089 0.0259\\2.098 0.0233\\2.027 0.0142\\1.928 0.0\\};
\addplot[black,line width=0.6pt,unbounded coords=jump] coordinates {(0.75,0.01684)(1.25,0.01684) (nan,nan) (0.9,0.0195)(1.1,0.0195) (nan,nan) (1,0.0195)(1,0.0142) (nan,nan) (0.9,0.0142)(1.1,0.0142)};
\addplot[black,line width=0.6pt,unbounded coords=jump] coordinates {(1.75,0.0524)(2.25,0.0524) (nan,nan) (1.9,0.0619)(2.1,0.0619) (nan,nan) (2,0.0619)(2,0.0429) (nan,nan) (1.9,0.0429)(2.1,0.0429)};
\addplot[black!80,line width=0.5pt] coordinates {(1,0.1207)(1,0.1243)(2,0.1243)(2,0.1207)};
\node[font=\fs{6.8},anchor=south,inner sep=1pt] at (axis cs:1.5,0.1243) {0.0024};
\end{axis}
\begin{scope}[x=0.01cm,y=-0.01cm]
\node[font=\fs{8}] at (1733,1134) {GSE117891};
\node[font=\fs{8}] at (2199.4,1134) {GSE182109};
\node[font=\fs{8}] at (1747.9,1870.6) {GSE117891};
\node[font=\fs{8}] at (2219.2,1868.6) {GSE182109};
\node[font=\fs{6.5}] at (1733.2,1793.5) {Grade};
\node[font=\fs{6.5}] at (2199.4,1801.4) {Grade};
\node[font=\fs{6.5}] at (1747.9,2580.4) {IDH status};
\node[font=\fs{6.5}] at (2219.2,2582.3) {IDH status};
\foreach \x/\y in {1521.5/1445, 1980.6/1449.5, 1519.5/2185.5, 1983.8/2186.4}{
  \node[rotate=90,font=\fs{5.6}] at (\x,\y) {Proportion of FAM83D postive tumor cell per patient};
}
\end{scope}

%==================== PANEL E ====================
\begin{scope}[x=0.01cm,y=-0.01cm,every node/.style={font=\fs{5.7},text=black!88}]
\def\xa{71.3}\def\xb{167.3}\def\xc{356.6}\def\xd{545.8}\def\xe{798.1}
\etab{49.4}{821.7}{368.6}{533.2}{TCGA}{452.5}
\erow{1}{FAM83D}{Low}{278}{Reference}{}
\erow{2}{}{High}{276}{1.77 (1.07, 2.91)}{0.03}
\erow{3}{Age}{<50}{325}{Reference}{}
\erow{4}{}{>50}{229}{2.90 (1.86, 4.50)}{<0.001}
\erow{5}{Grade}{G2}{209}{Reference}{}
\erow{6}{}{G3}{234}{1.98 (1.15, 3.40)}{0.01}
\erow{7}{}{G4}{111}{4.26 (2.18, 8.32)}{<0.001}
\erow{8}{IDH}{WT}{188}{Reference}{}
\erow{9}{}{Mutant}{366}{0.34 (0.19, 0.59)}{<0.001}
\erow{10}{MGMT}{Unmethylated}{140}{Reference}{}
\erow{11}{}{Methylated}{414}{0.90 (0.61, 1.33)}{0.59}
\def\xa{877.2}\def\xb{971.9}\def\xc{1169}\def\xd{1354.7}\def\xe{1604.7}
\etab{855.2}{1628.2}{1181}{1343.2}{CGGA.325}{1263.2}
\erow{1}{FAM83D}{Low}{143}{Reference}{}
\erow{2}{}{High}{143}{1.55 (1.13, 2.13)}{0.006}
\erow{3}{Age}{<50}{202}{Reference}{}
\erow{4}{}{>50}{84}{1.20 (0.87, 1.67)}{0.271}
\erow{5}{Grade}{G2}{86}{Reference}{}
\erow{6}{}{G3}{68}{2.68 (1.70, 4.24)}{<0.001}
\erow{7}{}{G4}{132}{5.55 (3.47, 8.88)}{<0.001}
\erow{8}{IDH}{Wildtype}{136}{Reference}{}
\erow{9}{}{Mutant}{150}{0.85 (0.60, 1.22)}{0.391}
\erow{10}{MGMT}{un−methylated}{139}{Reference}{}
\erow{11}{}{methylated}{147}{0.87 (0.65, 1.16)}{0.342}
\def\xa{1695}\def\xb{1789.7}\def\xc{1986.9}\def\xd{2173.6}\def\xe{2424.6}
\etab{1672.6}{2447.6}{2000}{2162.1}{CGGA.693}{2075.8}
\erow{1}{FAM83D}{Low}{216}{Reference}{}
\erow{2}{}{High}{213}{2.97 (2.22, 3.99)}{<0.001}
\erow{3}{Age}{<50}{313}{Reference}{}
\erow{4}{}{>50}{116}{1.17 (0.89, 1.54)}{0.3}
\erow{5}{Grade}{G2}{100}{Reference}{}
\erow{6}{}{G3}{164}{2.12 (1.40, 3.20)}{<0.001}
\erow{7}{}{G4}{165}{2.87 (1.80, 4.56)}{<0.001}
\erow{8}{IDH}{Wildtype}{193}{Reference}{}
\erow{9}{}{Mutant}{236}{0.58 (0.43, 0.78)}{<0.001}
\erow{10}{MGMT}{un−methylated}{178}{Reference}{}
\erow{11}{}{methylated}{251}{0.94 (0.74, 1.20)}{0.6}
\end{scope}

\begin{semilogxaxis}[fax, place={3.686}{27.502}{1.646}{5.509}, xmin=0.1408, xmax=11.35, xtick={0.2,0.5,1,2,5}, xticklabels={0.2,0.5,1,2,5}]
\addplot[black,line width=0.6pt,dash pattern=on 2pt off 1.5pt] coordinates {(1,-0.5)(1,-11.5)};
\addplot[black,line width=0.5pt,mark=|,mark size=1.8pt,unbounded coords=jump] coordinates {(1.07,-2)(2.91,-2) (nan,nan) (1.86,-4)(4.50,-4) (nan,nan) (1.15,-6)(3.40,-6) (nan,nan) (2.18,-7)(8.32,-7) (nan,nan) (0.19,-9)(0.59,-9) (nan,nan) (0.61,-11)(1.33,-11)};
\addplot[only marks,mark=square*,mark size=2.3pt,black] table[row sep=\\]{x y\\1 -1\\1.77 -2\\1 -3\\2.90 -4\\1 -5\\1.98 -6\\4.26 -7\\1 -8\\0.34 -9\\1 -10\\0.90 -11\\};
\end{semilogxaxis}
\begin{semilogxaxis}[fax, place={11.81}{27.502}{1.622}{5.509}, xmin=0.473, xmax=11.37, xtick={1,2,5}, xticklabels={1,2,5}]
\addplot[black,line width=0.6pt,dash pattern=on 2pt off 1.5pt] coordinates {(1,-0.5)(1,-11.5)};
\addplot[black,line width=0.5pt,mark=|,mark size=1.8pt,unbounded coords=jump] coordinates {(1.13,-2)(2.13,-2) (nan,nan) (0.87,-4)(1.67,-4) (nan,nan) (1.70,-6)(4.24,-6) (nan,nan) (3.47,-7)(8.88,-7) (nan,nan) (0.60,-9)(1.22,-9) (nan,nan) (0.65,-11)(1.16,-11)};
\addplot[only marks,mark=square*,mark size=2.3pt,black] table[row sep=\\]{x y\\1 -1\\1.55 -2\\1 -3\\1.20 -4\\1 -5\\2.68 -6\\5.55 -7\\1 -8\\0.85 -9\\1 -10\\0.87 -11\\};
\end{semilogxaxis}
\begin{semilogxaxis}[fax, place={20.00}{27.502}{1.621}{5.509}, xmin=0.3535, xmax=5.554, xtick={0.5,1,2}, xticklabels={0.5,1,2}]
\addplot[black,line width=0.6pt,dash pattern=on 2pt off 1.5pt] coordinates {(1,-0.5)(1,-11.5)};
\addplot[black,line width=0.5pt,mark=|,mark size=1.8pt,unbounded coords=jump] coordinates {(2.22,-2)(3.99,-2) (nan,nan) (0.89,-4)(1.54,-4) (nan,nan) (1.40,-6)(3.20,-6) (nan,nan) (1.80,-7)(4.56,-7) (nan,nan) (0.43,-9)(0.78,-9) (nan,nan) (0.74,-11)(1.20,-11)};
\addplot[only marks,mark=square*,mark size=2.3pt,black] table[row sep=\\]{x y\\1 -1\\2.97 -2\\1 -3\\1.17 -4\\1 -5\\2.12 -6\\2.87 -7\\1 -8\\0.58 -9\\1 -10\\0.94 -11\\};
\end{semilogxaxis}

\end{tikzpicture}
\end{document}
